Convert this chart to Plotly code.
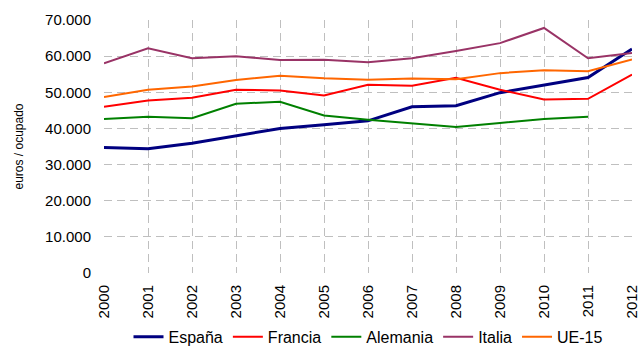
import plotly.graph_objects as go

years = list(range(2000, 2013))

espana = [34.7, 34.4, 35.9, 38.0, 40.0, 41.0, 42.1, 46.0, 46.3, 49.9, 52.0, 54.1, 62.0]
francia = [46.0, 47.7, 48.5, 50.7, 50.5, 49.1, 52.1, 51.8, 54.0, 50.7, 48.0, 48.2, 54.9]
alemania = [42.6, 43.2, 42.8, 46.8, 47.4, 43.6, 42.4, 41.5, 40.4, 41.5, 42.6, 43.2, None]
italia = [58.0, 62.2, 59.4, 60.0, 58.9, 59.0, 58.3, 59.4, 61.4, 63.6, 67.8, 59.4, 60.9]
ue15 = [48.7, 50.7, 51.6, 53.4, 54.6, 53.9, 53.5, 53.8, 53.6, 55.3, 56.1, 55.8, 59.1]

y_ticks = [0, 10000, 20000, 30000, 40000, 50000, 60000, 70000]
y_tick_labels = ["0", "10.000", "20.000", "30.000", "40.000", "50.000", "60.000", "70.000"]

series = [
    ("España", espana, "#000080", 3),
    ("Francia", francia, "#FF0000", 2),
    ("Alemania", alemania, "#008000", 2),
    ("Italia", italia, "#993366", 2),
    ("UE-15", ue15, "#FF6600", 2),
]

fig = go.Figure()
for name, vals, color, width in series:
    fig.add_trace(go.Scatter(
        x=years,
        y=[v * 1000 if v is not None else None for v in vals],
        mode="lines",
        name=name,
        line=dict(color=color, width=width),
        connectgaps=False,
        cliponaxis=False,
    ))

grid_style = dict(showgrid=True, gridcolor="#BFBFBF", gridwidth=1, griddash="8px,5px")

fig.update_layout(
    width=640,
    height=353,
    margin=dict(l=104, r=8, t=20, b=80, autoexpand=False),
    paper_bgcolor="white",
    plot_bgcolor="white",
    font=dict(family="Liberation Sans, Arial, sans-serif", size=15, color="#000000"),
    showlegend=True,
    legend=dict(
        orientation="h",
        x=0.5,
        xanchor="center",
        y=-0.185,
        yanchor="top",
        font=dict(size=16),
        itemwidth=30,
        tracegroupgap=0,
    ),
    xaxis=dict(
        range=[2000, 2012],
        tickmode="array",
        tickvals=years,
        ticktext=[str(y) for y in years],
        tickangle=-90,
        showline=False,
        zeroline=False,
        ticks="",
        ticklabelstandoff=8,
        ticklabeloverflow="allow",
        **grid_style,
    ),
    yaxis=dict(
        range=[0, 70000],
        tickmode="array",
        tickvals=y_ticks,
        ticktext=y_tick_labels,
        title=dict(text="euros / ocupado", font=dict(size=12), standoff=18),
        showline=False,
        zeroline=False,
        ticks="",
        ticklabelstandoff=12,
        **grid_style,
    ),
)

fig.write_html("out.html")
